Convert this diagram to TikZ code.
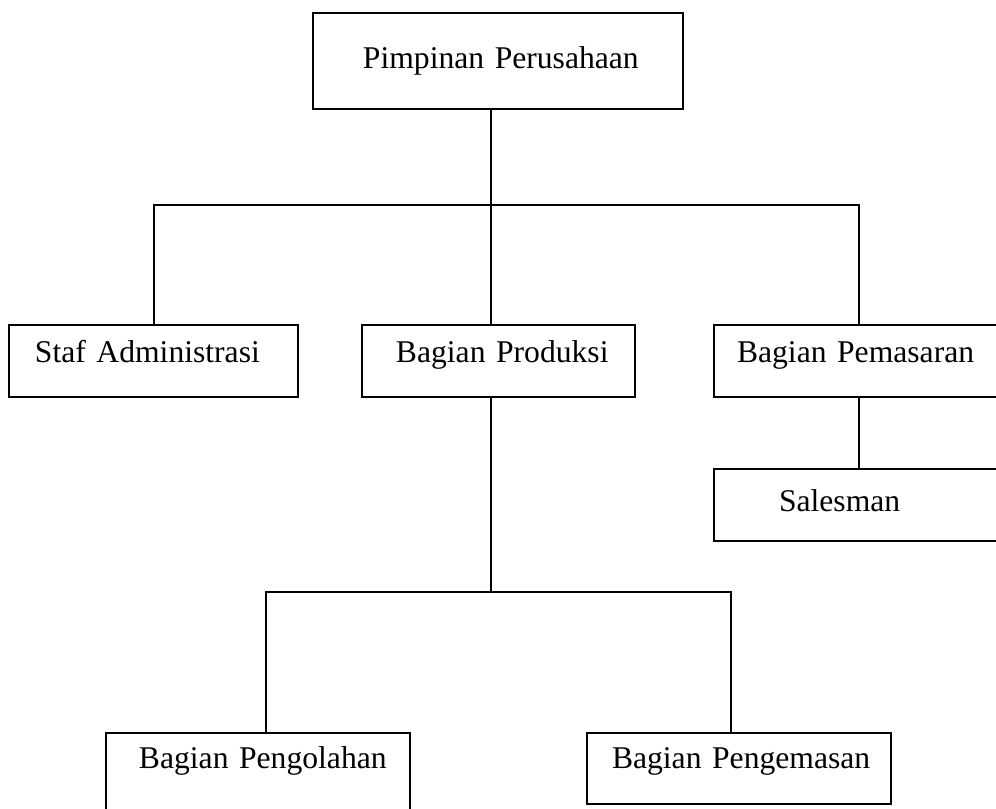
\documentclass[tikz,border=0pt]{standalone}
\usepackage{fontspec}
\setmainfont{Liberation Serif}
\usepackage{tikz}
\usetikzlibrary{positioning}
\tikzset{OrgChart/.style = {% styles of the organisation chart
      box/.style = {draw, rectangle, anchor=north west, align=left,
                    inner ysep=0pt, outer sep=0pt, line width=1pt,
                    font=\fontsize{18}{21}\selectfont},
     mbox/.style = {box, text height=0.76cm, text depth=0.68cm},
     link/.style = {line width=1pt}}
        }

\begin{document}
\begin{tikzpicture}[OrgChart, x=0.02cm, y=-0.02cm]
\useasboundingbox (0,0) rectangle (996,808);
\clip (0,0) rectangle (996,808);

% nodes
\node (pimpinan)   [box, inner xsep=1.0cm, text width=5.4cm, text height=1.12cm, text depth=0.8cm]
                   at (313,13)  {\mbox{Pimpinan Perusahaan}};
\node (staf)       [mbox, inner xsep=0.52cm, text width=4.74cm] at (9,325)   {\mbox{Staf Administrasi}};
\node (produksi)   [mbox, inner xsep=0.68cm, text width=4.1cm]  at (362,325) {\mbox{Bagian Produksi}};
\node (pemasaran)  [mbox, inner xsep=0.46cm, text width=5.08cm] at (714,325) {\mbox{Bagian Pemasaran}};
\node (salesman)   [box, inner xsep=1.3cm, text width=3.4cm, text height=0.84cm, text depth=0.6cm]
                   at (714,469) {\mbox{Salesman}};
\node (pengolahan) [box, inner xsep=0.66cm, text width=4.76cm, text height=0.7cm, text depth=0.88cm]
                   at (106,733) {\mbox{Bagian Pengolahan}};
\node (pengemasan) [box, inner xsep=0.5cm, text width=5.08cm, text height=0.7cm, text depth=0.72cm]
                   at (587,733) {\mbox{Bagian Pengemasan}};

% branch points
\coordinate (pusat)   at (491,205);
\coordinate (cabangA) at (154,205);
\coordinate (cabangB) at (859,205);
\coordinate (pusat2)  at (491,592);
\coordinate (cabangC) at (266,592);
\coordinate (cabangD) at (731,592);

% connectors
\draw [link] (pimpinan.south -| pusat) -- (pusat);
\draw [link] (staf.north -| cabangA) |- (cabangB) -- (pemasaran.north -| cabangB);
\draw [link] (pusat) -- (produksi.north -| pusat);
\draw [link] (pemasaran.south -| cabangB) -- (salesman.north -| cabangB);
\draw [link] (produksi.south -| pusat2) -- (pusat2);
\draw [link] (pengolahan.north -| cabangC) |- (cabangD) -- (pengemasan.north -| cabangD);

\end{tikzpicture}
\end{document}
